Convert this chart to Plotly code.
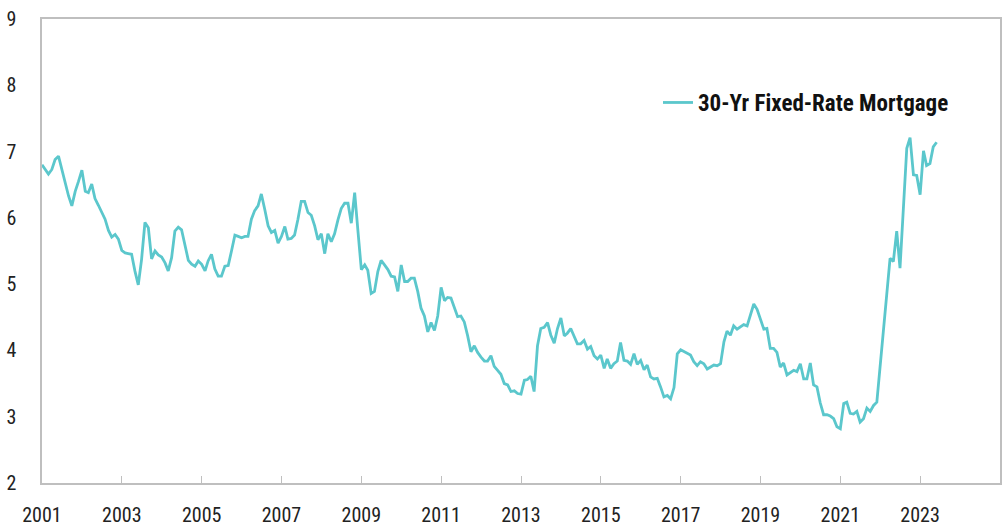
import pandas as pd
import plotly.graph_objects as go

# Monthly 30-year fixed mortgage rate (%), Jan 2001 - Jun 2023
rates_2001_2005 = [
    6.80, 6.72, 6.66, 6.73, 6.88, 6.93, 6.72, 6.55, 6.33, 6.18, 6.40, 6.55,
    6.72, 6.40, 6.38, 6.51, 6.29, 6.19, 6.08, 5.98, 5.81, 5.71, 5.75, 5.68,
    5.51, 5.47, 5.46, 5.45, 5.20, 4.99, 5.37, 5.93, 5.85, 5.38, 5.50, 5.44,
    5.41, 5.32, 5.20, 5.40, 5.80, 5.86, 5.82, 5.60, 5.36, 5.30, 5.27, 5.35,
    5.30, 5.20, 5.35, 5.45, 5.23, 5.12, 5.12, 5.27, 5.28, 5.50, 5.74, 5.72,
]
rates_2006_2010 = [
    5.70, 5.72, 5.72, 5.98, 6.11, 6.18, 6.36, 6.13, 5.88, 5.78, 5.81, 5.62,
    5.72, 5.87, 5.68, 5.69, 5.74, 5.98, 6.25, 6.25, 6.08, 6.04, 5.88, 5.67,
    5.76, 5.46, 5.76, 5.64, 5.76, 5.97, 6.14, 6.22, 6.22, 5.92, 6.38, 5.80,
    5.22, 5.29, 5.21, 4.86, 4.89, 5.19, 5.36, 5.29, 5.22, 5.12, 5.11, 4.89,
    5.29, 5.04, 5.04, 5.09, 5.09, 4.89, 4.64, 4.52, 4.28, 4.42, 4.30, 4.52,
]
rates_2011_2015 = [
    4.95, 4.75, 4.80, 4.79, 4.65, 4.51, 4.52, 4.43, 4.22, 3.98, 4.07, 3.97,
    3.90, 3.84, 3.84, 3.92, 3.76, 3.70, 3.64, 3.50, 3.48, 3.38, 3.39, 3.35,
    3.34, 3.55, 3.56, 3.61, 3.38, 4.07, 4.33, 4.35, 4.42, 4.23, 4.11, 4.33,
    4.49, 4.22, 4.26, 4.33, 4.22, 4.10, 4.10, 4.15, 4.02, 4.06, 3.92, 3.87,
    3.93, 3.73, 3.87, 3.73, 3.80, 3.84, 4.12, 3.85, 3.84, 3.79, 3.95, 3.79,
]
rates_2016_2020 = [
    3.85, 3.71, 3.78, 3.60, 3.57, 3.58, 3.45, 3.30, 3.32, 3.27, 3.44, 3.95,
    4.01, 3.98, 3.95, 3.93, 3.83, 3.77, 3.83, 3.80, 3.72, 3.75, 3.78, 3.77,
    3.80, 4.13, 4.29, 4.23, 4.37, 4.32, 4.36, 4.39, 4.37, 4.55, 4.70, 4.62,
    4.47, 4.32, 4.33, 4.03, 4.03, 3.97, 3.75, 3.81, 3.63, 3.67, 3.70, 3.68,
    3.80, 3.57, 3.57, 3.81, 3.48, 3.45, 3.21, 3.03, 3.03, 3.01, 2.97, 2.85,
]
rates_2021_2023 = [
    2.82, 3.20, 3.22, 3.05, 3.04, 3.08, 2.92, 2.97, 3.13, 3.08, 3.17, 3.22,
    3.76, 4.30, 4.85, 5.39, 5.34, 5.80, 5.24, 6.14, 7.05, 7.21, 6.65, 6.64,
    6.35, 7.01, 6.79, 6.82, 7.07, 7.14,
]
rates = rates_2001_2005 + rates_2006_2010 + rates_2011_2015 + rates_2016_2020 + rates_2021_2023
dates = pd.date_range("2001-01-01", periods=len(rates), freq="MS")

series_name = "30-Yr Fixed-Rate Mortgage"
y_ticks = [2, 3, 4, 5, 6, 7, 8, 9]
x_range = ["2001-01-01", "2025-01-01"]

LINE = "#5BC7CC"
AXIS = "#BFBFBF"
FONT = "Liberation Sans Narrow, Arial Narrow, Roboto Condensed, Liberation Sans, sans-serif"

fig = go.Figure()
fig.add_trace(go.Scatter(
    x=dates, y=rates, mode="lines", name="<b>" + series_name + "</b>",
    line=dict(color=LINE, width=2.8),
))

fig.update_layout(
    width=1003, height=527,
    margin=dict(l=42, r=3, t=19, b=44, autoexpand=False),
    paper_bgcolor="white", plot_bgcolor="white",
    font=dict(family=FONT, size=20, color="#222222"),
    showlegend=True,
    legend=dict(
        x=0.643, y=0.82, xanchor="left", yanchor="middle",
        bgcolor="rgba(0,0,0,0)", font=dict(family=FONT, size=23, color="#111111"),
        itemwidth=30,
    ),
)
fig.update_xaxes(
    type="date", range=x_range, automargin=False,
    tick0="2001-01-01", dtick="M24", tickformat="%Y",
    showgrid=False, zeroline=False,
    showline=True, linecolor=AXIS, linewidth=1.5, mirror=True,
    ticks="inside", ticklen=7, tickcolor=AXIS, tickwidth=1,
    ticklabelstandoff=13,
)
fig.update_yaxes(
    range=[2, 9], tickvals=y_ticks, automargin=False,
    showgrid=False, zeroline=False,
    showline=True, linecolor=AXIS, linewidth=1.5, mirror=True,
    ticks="", ticklabelstandoff=20,
)

fig.write_html(
    "out.html",
    config={"displayModeBar": False},
    post_script="document.body.style.margin='0';document.body.style.overflow='hidden';",
)
